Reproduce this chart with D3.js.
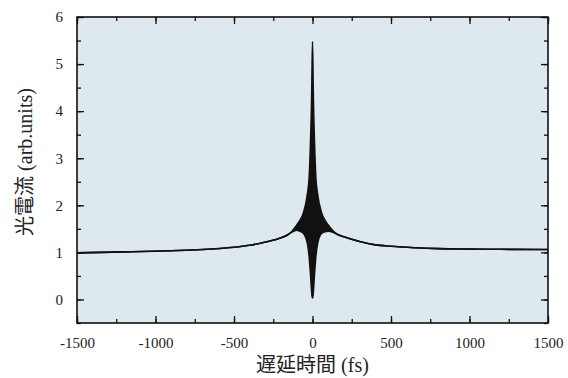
<!DOCTYPE html>
<html>
<head>
<meta charset="utf-8">
<script src="https://cdn.jsdelivr.net/npm/d3@7"></script>
<style>
  body { margin: 0; background: #fff; }
  svg { display: block; }
  .tick text { font-family: "Liberation Serif", "DejaVu Serif", serif; font-size: 15px; fill: #222; }
  .title { font-family: "Liberation Serif", "Noto Sans CJK JP", serif; font-size: 20px; fill: #222; }
</style>
</head>
<body>
<svg id="chart" width="568" height="378"></svg>
<script>
var delays = [-1500, -1200, -900, -700, -500, -400, -300, -200, -160, -130, -100, -80, -57, -32, -21, -13, -6, -4, 0,
              4, 6, 13, 21, 32, 57, 80, 100, 130, 160, 200, 300, 400, 500, 650, 800, 1000, 1200, 1500];
// upper envelope of the photocurrent (arb. units)
var upper = [0.99, 1.01, 1.035, 1.06, 1.11, 1.15, 1.22, 1.31, 1.37, 1.45, 1.58, 1.68, 1.85, 2.25, 2.6, 3.3, 4.2, 4.6, 5.48,
             4.6, 4.2, 3.3, 2.6, 2.25, 1.85, 1.68, 1.58, 1.46, 1.38, 1.33, 1.23, 1.16, 1.13, 1.10, 1.08, 1.07, 1.065, 1.06];
// lower envelope of the photocurrent (arb. units)
var lower = [0.99, 1.01, 1.035, 1.06, 1.11, 1.15, 1.22, 1.31, 1.37, 1.43, 1.47, 1.45, 1.40, 1.18, 0.9, 0.55, 0.19, 0.1, 0.03,
             0.1, 0.19, 0.55, 0.9, 1.18, 1.40, 1.44, 1.45, 1.43, 1.38, 1.33, 1.23, 1.16, 1.13, 1.10, 1.08, 1.07, 1.065, 1.06];
var xTicks = [-1500, -1000, -500, 0, 500, 1000, 1500];
var yTicks = [0, 1, 2, 3, 4, 5, 6];

var margin = { left: 77, top: 17, right: 20, bottom: 55 },
  width = 548 - margin.left,
  height = 323 - margin.top;

var svg = d3.select("#chart");
var g = svg.append("g").attr("transform", "translate(" + margin.left + "," + margin.top + ")");

var x = d3.scaleLinear().domain([-1500, 1500]).range([0, width]);
var y = d3.scaleLinear().domain([-0.5, 6]).range([height, 0]);

// plot background
g.append("rect")
  .attr("width", width)
  .attr("height", height)
  .attr("fill", "#dde9ef");

var pts = delays.map(function (d, i) { return { t: d, hi: upper[i], lo: lower[i] }; });

// filled fringe region
g.append("path")
  .datum(pts)
  .attr("fill", "#111")
  .attr("d", d3.area()
    .x(function (d) { return x(d.t); })
    .y0(function (d) { return y(d.lo); })
    .y1(function (d) { return y(d.hi); })
    .curve(d3.curveMonotoneX));

["hi", "lo"].forEach(function (k) {
  g.append("path")
    .datum(pts)
    .attr("fill", "none")
    .attr("stroke", "#111")
    .attr("stroke-width", 1.6)
    .attr("d", d3.line()
      .x(function (d) { return x(d.t); })
      .y(function (d) { return y(d[k]); })
      .curve(d3.curveMonotoneX));
});

// minor ticks
var xMinor = d3.range(-1500, 1501, 250), yMinor = d3.range(-0.5, 6.01, 0.5);
function ticks(axis, vals, size) {
  return axis.tickValues(vals).tickSizeInner(size).tickSizeOuter(0).tickFormat("");
}
g.append("g").attr("transform", "translate(0," + height + ")").call(ticks(d3.axisBottom(x), xMinor, -4));
g.append("g").call(ticks(d3.axisTop(x), xMinor, -4));
g.append("g").call(ticks(d3.axisLeft(y), yMinor, -4));
g.append("g").attr("transform", "translate(" + width + ",0)").call(ticks(d3.axisRight(y), yMinor, -4));

// major ticks and labels
var xb = g.append("g").attr("transform", "translate(0," + height + ")")
  .call(d3.axisBottom(x).tickValues(xTicks).tickSizeInner(-7).tickSizeOuter(0).tickPadding(14).tickFormat(d3.format("d")));
g.append("g").call(d3.axisTop(x).tickValues(xTicks).tickSizeInner(-7).tickSizeOuter(0).tickFormat(""));
g.append("g")
  .call(d3.axisLeft(y).tickValues(yTicks).tickSizeInner(-7).tickSizeOuter(0).tickPadding(14).tickFormat(d3.format("d")));
g.append("g").attr("transform", "translate(" + width + ",0)")
  .call(d3.axisRight(y).tickValues(yTicks).tickSizeInner(-7).tickSizeOuter(0).tickFormat(""));

g.selectAll(".domain").remove();
g.selectAll(".tick line").attr("stroke", "#111").attr("stroke-width", 1.3);
xb.selectAll(".tick text").text(function (d) { return d < 0 ? "-" + Math.abs(d) : d; });

// frame
g.append("rect")
  .attr("width", width)
  .attr("height", height)
  .attr("fill", "none")
  .attr("stroke", "#111")
  .attr("stroke-width", 1.6);

// axis titles
svg.append("text").attr("class", "title")
  .attr("x", margin.left + width / 2)
  .attr("y", 372)
  .attr("text-anchor", "middle")
  .text("遅延時間 (fs)");

svg.append("text").attr("class", "title")
  .attr("transform", "translate(32," + (margin.top + 145) + ") rotate(-90)")
  .attr("text-anchor", "middle")
  .text("光電流 (arb.units)");
</script>
</body>
</html>
